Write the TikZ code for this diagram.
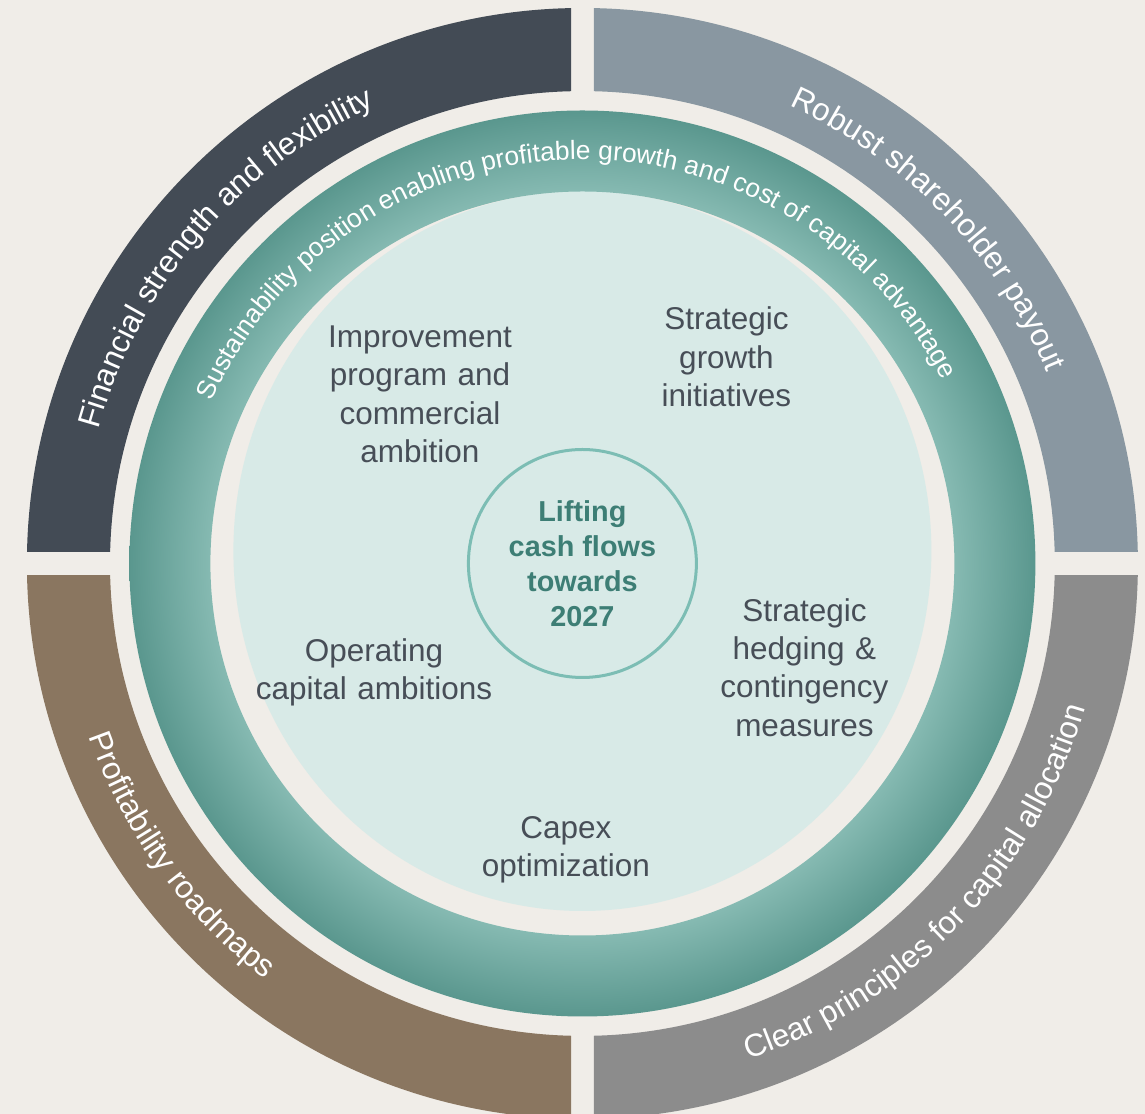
\documentclass[tikz,border=0pt]{standalone}
\usepackage{fontspec}
\setmainfont{Liberation Sans}
\usetikzlibrary{decorations.text}

\definecolor{bgbeige}{HTML}{F0EDE8}
\definecolor{segTL}{HTML}{434B55}
\definecolor{segTR}{HTML}{8997A1}
\definecolor{segBL}{HTML}{8A7660}
\definecolor{segBR}{HTML}{8C8C8C}
\definecolor{tealdk}{HTML}{5A978E}
\definecolor{teallt}{HTML}{86BAB2}
\definecolor{innerbg}{HTML}{D8EAE7}
\definecolor{hubline}{HTML}{7CBDB4}
\definecolor{hubtext}{HTML}{3D7E75}
\definecolor{labeltext}{HTML}{474E57}

\pgfdeclareradialshading{tealring}{\pgfpoint{0bp}{0bp}}{color(0bp)=(teallt); color(20.5bp)=(teallt); color(25bp)=(tealdk); color(50bp)=(tealdk)}

\newcommand{\ringfont}{\fontsize{9}{11}\selectfont\color{white}}
\newcommand{\bandfont}{\fontsize{7.5}{9}\selectfont\color{white}}

\tikzset{
  ringlabel/.style={decorate, decoration={text along path, text align=center, text={#1}}},
  lever/.style={anchor=base, text width=60mm, align=center, inner sep=0pt,
    text=labeltext, font=\fontsize{8.96}{10.9}\selectfont},
  hub/.style={circle, draw=hubline, line width=0.3mm, minimum size=22.8mm, inner sep=0pt,
    align=center, text=hubtext, font=\fontsize{8.2}{9.96}\selectfont\bfseries},
}

\begin{document}
\begin{tikzpicture}[x=0.1mm, y=0.1mm]
  % Page
  \fill[bgbeige] (-582.4,-550.5) rectangle (562.6,563.5);
  \useasboundingbox (-582.4,-550.5) rectangle (562.6,563.5);
  \clip (-582.4,-550.5) rectangle (562.6,563.5);
  % Outer ring, four quarters
  \foreach \sx/\sy/\col in {-1/1/segTL, 1/1/segTR, -1/-1/segBL, 1/-1/segBR} {
      \begin{scope}
        \clip (\sx*11.4, \sy*12) rectangle (\sx*600, \sy*600);
        \fill[\col, even odd rule] (0,0) circle[radius=555.5] circle[radius=472.4];
      \end{scope}
    }
  % Inner disc and teal band
  \fill[innerbg] (0,12.5) ellipse[x radius=349, y radius=360];
  \shade[shading=tealring, even odd rule] (0,0) circle[radius=453] circle[radius=372];
  % Ring texts
  \path[ringlabel={|\ringfont|Financial strength and flexibility}]
    (179.5:502) arc[start angle=179.5, end angle=99.5, radius=502];
  \path[ringlabel={|\ringfont|Robust shareholder payout}]
    (84:502) arc[start angle=84, end angle=4, radius=502];
  \path[ringlabel={|\ringfont|Profitability roadmaps}]
    (186:523) arc[start angle=186, end angle=246, radius=523];
  \path[ringlabel={|\ringfont|Clear principles for capital allocation}]
    (276.2:523) arc[start angle=276.2, end angle=356.2, radius=523];
  \path[ringlabel={|\bandfont|Sustainability position enabling profitable growth and cost of capital advantage}]
    (171.7:404) arc[start angle=171.7, end angle=11.7, radius=404];
  % Levers
  \node[lever] (improve) at (-162.4,215.8) {Improvement\\program and\\commercial\\ambition};
  \node[lever] (growth) at (144.1,233.6) {Strategic\\growth\\initiatives};
  \node[lever] (operating) at (-208.4,-98.2) {Operating\\capital ambitions};
  \node[lever] (hedging) at (222,-57.8) {Strategic\\hedging \&\\contingency\\measures};
  \node[lever] (capex) at (-16.4,-275) {Capex\\optimization};
  % Hub
  \node[hub] (hub) at (0,0) {Lifting\\cash flows\\towards\\2027};
\end{tikzpicture}
\end{document}
